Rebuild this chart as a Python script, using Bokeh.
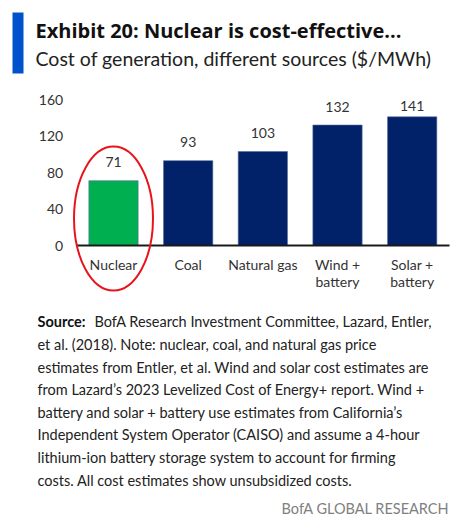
from bokeh.plotting import figure
from bokeh.models import Label, BoxAnnotation, FixedTicker, LinearAxis, Range1d
from bokeh.core.properties import value
from bokeh.embed import file_html
from bokeh.resources import INLINE

categories = ["Nuclear", "Coal", "Natural gas", "Wind +\nbattery", "Solar +\nbattery"]
costs = [71, 93, 103, 132, 141]
bar_colors = ["#00B050", "#012169", "#012169", "#012169", "#012169"]
y_ticks = [0, 40, 80, 120, 160]

title = "Exhibit 20: Nuclear is cost-effective..."
subtitle = "Cost of generation, different sources ($/MWh)"
source_lead = "Source:"
source_lines = [
    "BofA Research Investment Committee, Lazard, Entler,",
    "et al. (2018).  Note: nuclear, coal, and natural gas price",
    "estimates from Entler, et al. Wind and solar cost estimates are",
    "from Lazard\u2019s 2023 Levelized Cost of Energy+ report. Wind +",
    "battery and solar + battery use estimates from California\u2019s",
    "Independent  System Operator (CAISO) and assume a 4-hour",
    "lithium-ion battery storage system to account for firming",
    "costs.  All cost estimates show unsubsidized   costs.",
]
brand = "BofA GLOBAL RESEARCH"

FONT = "Lato"
TITLE_FONT = "Open Sans"
W, H = 462, 520

# layout geometry (pixels in the picture)
X0_PX = 113.0      # centre of first category
STEP_PX = 74.67    # distance between categories
BASE_PX = 245.0    # y of value 0
PX_PER_UNIT = 0.9125
LABEL_CAP = 133    # value labels do not rise above this level (chart top)

x_start = (0 - X0_PX) / STEP_PX
x_end = (W - X0_PX) / STEP_PX
y_end = BASE_PX / PX_PER_UNIT
y_start = -(H - BASE_PX) / PX_PER_UNIT

p = figure(width=W, height=H, x_range=Range1d(x_start, x_end), y_range=Range1d(y_start, y_end),
           output_backend="svg", toolbar_location=None,
           x_axis_location=None, y_axis_location=None,
           min_border=0)
p.outline_line_color = None
p.grid.visible = False
p.background_fill_color = "white"

idx = list(range(len(categories)))
src = dict(x=idx, val=costs, color=bar_colors, lab=[str(v) for v in costs],
           laby=[min(v, LABEL_CAP) for v in costs])
p.vbar(x="x", top="val", bottom=0, width=0.66, fill_color="color",
       line_color="#5a6a9a", line_width=0.6, source=src)
p.text(x="x", y="laby", text="lab", source=src, text_align="center",
       text_baseline="alphabetic", y_offset=-18.5, text_font=value(FONT),
       text_font_size="14px", text_color="#333333")

# baseline of the bars
p.segment(x0=[-0.5], y0=[0], x1=[len(categories) - 0.5], y1=[0],
          line_color="#1a1a1a", line_width=2)

# highlight ellipse around Nuclear
p.ellipse(x=[0], y=[29.5], width=79, height=144, width_units="screen",
          height_units="screen", fill_color=None, line_color="#E8141B", line_width=2)

xa = LinearAxis(fixed_location=0)
xa.ticker = FixedTicker(ticks=idx)
xa.major_label_overrides = {i: c for i, c in zip(idx, categories)}
xa.axis_line_color = None
xa.major_tick_line_color = None
xa.minor_tick_line_color = None
xa.major_label_text_font = FONT
xa.major_label_text_font_size = "14px"
xa.major_label_text_color = "#333333"
xa.major_label_standoff = 4
xa.major_label_text_line_height = 1.0
p.add_layout(xa, "below")

ya = LinearAxis(fixed_location=-0.5)
ya.ticker = FixedTicker(ticks=y_ticks)
ya.axis_line_color = None
ya.major_tick_line_color = None
ya.minor_tick_line_color = None
ya.major_label_text_font = FONT
ya.major_label_text_font_size = "14px"
ya.major_label_text_color = "#333333"
ya.major_label_standoff = 7
p.add_layout(ya, "left")


def lab(text, ix, iy, size, color="#111111", style="normal", align="left", font=FONT):
    # iy is the wanted baseline; Bokeh draws labels a bit lower, so lift them
    lift = 0.36 * size
    p.add_layout(Label(x=ix, y=H - iy + lift, x_units="screen", y_units="screen",
                       text=text, text_font=font, text_font_size=f"{size}px",
                       text_font_style=style, text_color=color,
                       text_align=align, text_baseline="alphabetic"))


p.add_layout(BoxAnnotation(left=12, right=23, top=H - 12, bottom=H - 73,
                           left_units="screen", right_units="screen",
                           top_units="screen", bottom_units="screen",
                           fill_color="#0052CC", fill_alpha=1.0, line_color=None))

lab(title, 35, 37, 20, "#111111", "bold", font=TITLE_FONT)
lab(subtitle, 35, 65, 19.5, "#222222")

y0 = 326.7
step = 22.6
lab(source_lead, 37, y0, 14.5, "#111111", "bold")
lab(source_lines[0], 94, y0, 14.5, "#222222")
for i, line in enumerate(source_lines[1:], start=1):
    lab(line, 37, y0 + i * step, 14.5, "#222222")
lab(brand, 449, 513, 14.5, "#808080", align="right")

open("out.html", "w").write(file_html(p, INLINE))
